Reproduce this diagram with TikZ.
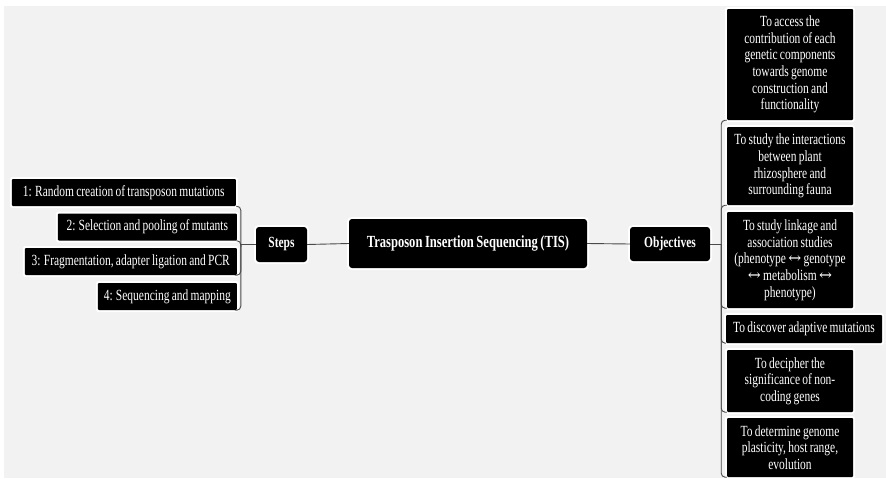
\documentclass[tikz,border=0pt]{standalone}
\usepackage{fontspec}
\setmainfont{Liberation Serif}[FakeStretch=0.74, WordSpace=0.8]
\newfontfamily\arrowfont{DejaVu Serif}
\newcommand{\lrarrow}{{\arrowfont ↔}}
\definecolor{pagegrey}{HTML}{F2F2F2}
\definecolor{linegrey}{HTML}{4A4A4A}
\begin{document}
\begin{tikzpicture}[x=1pt,y=-1pt,
  box/.style={fill=black, text=white, inner sep=0pt, align=flush center,
    preaction={draw=white, line width=4pt}},
  stepbox/.style={box, rounded corners=1pt, minimum height=27pt, anchor=east,
    font=\fontsize{15.5}{16.7}\selectfont},
  hubbox/.style={box, rounded corners=3pt,
    font=\bfseries\fontsize{15.5}{16.7}\selectfont},
  goalbox/.style={box, rounded corners=1pt, text width=122pt, minimum width=126pt,
    font=\fontsize{15.5}{16.7}\selectfont},
  conn/.style={draw=linegrey, line width=0.9pt},
  elbow/.style={conn, rounded corners=4pt},
]
% page and panel
\fill[white] (0,0) rectangle (886,478);
\fill[pagegrey] (4,6) rectangle (886,478);

% central chain
\node[hubbox, minimum width=238pt, minimum height=49pt,
  font=\bfseries\fontsize{17}{19}\selectfont] (tis) at (468,243.5)
  {Trasposon Insertion Sequencing (TIS)};
\node[hubbox, minimum width=51pt, minimum height=35pt] (steps) at (281.5,244.5) {Steps};
\node[hubbox, minimum width=80pt, minimum height=34pt] (obj) at (670,244) {Objectives};

% steps
\node[stepbox, minimum width=224pt] (s1) at (236,192.5) {1: Random creation of transposon mutations};
\node[stepbox, minimum width=179pt] (s2) at (237,227) {2: Selection and pooling of mutants};
\node[stepbox, minimum width=212pt] (s3) at (237,261.5) {3: Fragmentation, adapter ligation and PCR};
\node[stepbox, minimum width=139pt] (s4) at (237,296.5) {4: Sequencing and mapping};

% objectives
\node[goalbox, minimum height=111pt] (o1) at (790,64.5)
  {To access the\\contribution of each\\genetic components\\towards genome\\construction and\\functionality};
\node[goalbox, minimum height=78pt] (o2) at (790,166)
  {To study the interactions\\between plant\\rhizosphere and\\surrounding fauna};
\node[goalbox, minimum height=96pt] (o3) at (790,260)
  {To study linkage and\\association studies\\(phenotype \lrarrow{} genotype\\\lrarrow{} metabolism \lrarrow\\phenotype)};
\node[goalbox, text width=152pt, minimum width=156pt, minimum height=28pt] (o4) at (804,329)
  {To discover adaptive mutations};
\node[goalbox, minimum height=62pt] (o5) at (790,381)
  {To decipher the\\significance of non-\\coding genes};
\node[goalbox, minimum height=59pt] (o6) at (790,447.5)
  {To determine genome\\plasticity, host range,\\evolution};

% connectors
\draw[conn] (steps.east) -- (tis.west);
\draw[conn] (tis.east) -- (obj.west);

\coordinate (lj) at ([xshift=-15pt]steps.west);
\draw[conn] (steps.west) -- (lj);
\foreach \s in {s1,s2,s3,s4}
  \draw[elbow] (lj) |- (\s.south east);

\coordinate (rj) at ([xshift=11pt]obj.east);
\draw[conn] (obj.east) -- (rj);
\foreach \o in {o1,o2,o3,o4,o5,o6}
  \draw[elbow] (rj) |- (\o.south west);
\end{tikzpicture}
\end{document}
